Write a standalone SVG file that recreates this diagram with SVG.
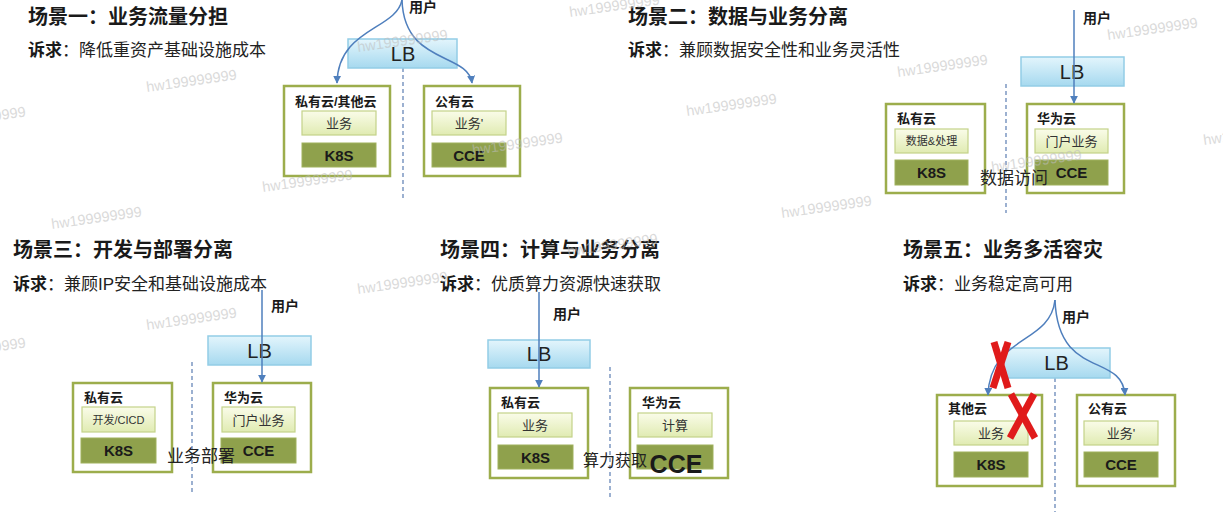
<svg xmlns="http://www.w3.org/2000/svg" width="1223" height="512" viewBox="0 0 1223 512">
<defs>
<linearGradient id="gLB" x1="0" y1="0" x2="0" y2="1"><stop offset="0" stop-color="#e3f5fc"/><stop offset="1" stop-color="#a6d9ef"/></linearGradient>
<linearGradient id="gSvc" x1="0" y1="0" x2="0" y2="1"><stop offset="0" stop-color="#fafce9"/><stop offset="1" stop-color="#e0ebb2"/></linearGradient>
<marker id="ah" viewBox="0 0 10 10" refX="9" refY="5" markerWidth="8" markerHeight="8" markerUnits="userSpaceOnUse" orient="auto"><path d="M0,0 L10,5 L0,10 z" fill="#4f7fbd"/></marker>
<style>
text{font-family:"Liberation Sans","Noto Sans CJK SC",sans-serif;fill:#1a1a1a}
.title{font-size:20px;font-weight:bold}
.req{font-size:17px;fill:#222}
.req .b{font-weight:bold;fill:#1a1a1a}
.user{font-size:14px;font-weight:bold}
.lb{fill:url(#gLB);stroke:#93cde6;stroke-width:1.5}
.lbt{font-size:20px;text-anchor:middle;fill:#222}
.outer{fill:#fff;stroke:#9cad4c;stroke-width:2.5}
.cap{font-size:13px;font-weight:bold}
.svc{fill:url(#gSvc);stroke:#c4d289;stroke-width:1.2}
.svt{font-size:13px;text-anchor:middle;fill:#333}
.svs{font-size:11px;text-anchor:middle;fill:#333}
.base{fill:#8fa14c;stroke:#9fb15c;stroke-width:1}
.bt{font-size:15px;font-weight:bold;text-anchor:middle}
.note{font-size:17px;fill:#222}
.conn{fill:none;stroke:#4f7fbd;stroke-width:1.5;marker-end:url(#ah)}
.div{stroke:#5b7db2;stroke-width:1.2;stroke-dasharray:4 3}
.wm{font-size:14.5px;fill:#bdbdbd;opacity:0.55}
.x{stroke:#e01b1b;stroke-width:7;stroke-linecap:butt}
</style>
</defs>
<rect width="1223" height="512" fill="#fff"/>

<!-- Scenario 1 -->
<g id="s1">
<text class="title" x="28" y="24">场景一：业务流量分担</text>
<text class="req" x="28" y="56"><tspan class="b">诉求</tspan>：降低重资产基础设施成本</text>
<line class="div" x1="403" y1="68" x2="403" y2="200"/>
<g id="s1-lb"><rect class="lb" x="348" y="39" width="109" height="29"/><text class="lbt" x="403" y="61">LB</text></g>
<text class="user" x="409" y="12">用户</text>
<g id="s1-left"><rect class="outer" x="284" y="86" width="106" height="90"/><text class="cap" x="295" y="106">私有云/其他云</text>
<rect class="svc" x="302" y="111" width="74" height="24"/><text class="svt" x="339" y="128">业务</text>
<rect class="base" x="302" y="143" width="74" height="24"/><text class="bt" x="339" y="160.5">K8S</text></g>
<g id="s1-right"><rect class="outer" x="424" y="86" width="96" height="90"/><text class="cap" x="435" y="106">公有云</text>
<rect class="svc" x="432" y="111" width="74" height="24"/><text class="svt" x="469" y="128">业务'</text>
<rect class="base" x="432" y="143" width="74" height="24"/><text class="bt" x="469" y="160.5">CCE</text></g>
</g>

<!-- Scenario 2 -->
<g id="s2">
<text class="title" x="628" y="24">场景二：数据与业务分离</text>
<text class="req" x="628" y="56"><tspan class="b">诉求</tspan>：兼顾数据安全性和业务灵活性</text>
<line class="div" x1="1006" y1="84" x2="1006" y2="213"/>
<g id="s2-lb"><rect class="lb" x="1021" y="57" width="103" height="29"/><text class="lbt" x="1072" y="79">LB</text></g>
<text class="user" x="1083" y="23">用户</text>
<g id="s2-left"><rect class="outer" x="886" y="104" width="99" height="89"/><text class="cap" x="897" y="123">私有云</text>
<rect class="svc" x="895" y="129" width="73" height="24"/><text class="svs" x="931.5" y="145">数据&amp;处理</text>
<rect class="base" x="895" y="160" width="73" height="25"/><text class="bt" x="931.5" y="178">K8S</text></g>
<g id="s2-right"><rect class="outer" x="1027" y="104" width="97" height="89"/><text class="cap" x="1037" y="123">华为云</text>
<rect class="svc" x="1035" y="129" width="73" height="24"/><text class="svt" x="1071.5" y="146">门户业务</text>
<rect class="base" x="1035" y="160" width="73" height="25"/><text class="bt" x="1071.5" y="178">CCE</text></g>
<text class="note" x="980" y="184">数据访问</text>
</g>

<!-- Scenario 3 -->
<g id="s3">
<text class="title" x="13" y="257">场景三：开发与部署分离</text>
<text class="req" x="13" y="290"><tspan class="b">诉求</tspan>：兼顾IP安全和基础设施成本</text>
<line class="div" x1="192" y1="362" x2="192" y2="493"/>
<g id="s3-lb"><rect class="lb" x="208" y="336" width="103" height="29"/><text class="lbt" x="259.5" y="358">LB</text></g>
<text class="user" x="271" y="311">用户</text>
<g id="s3-left"><rect class="outer" x="73" y="383" width="99" height="89"/><text class="cap" x="84" y="402">私有云</text>
<rect class="svc" x="82" y="407" width="73" height="25"/><text class="svs" x="118.5" y="424">开发/CICD</text>
<rect class="base" x="81" y="438" width="75" height="25"/><text class="bt" x="118.5" y="456">K8S</text></g>
<g id="s3-right"><rect class="outer" x="213" y="383" width="98" height="89"/><text class="cap" x="224" y="402">华为云</text>
<rect class="svc" x="222" y="407" width="73" height="25"/><text class="svt" x="258.5" y="424.5">门户业务</text>
<rect class="base" x="221" y="438" width="75" height="25"/><text class="bt" x="258.5" y="456">CCE</text></g>
<text class="note" x="167" y="462">业务部署</text>
</g>

<!-- Scenario 4 -->
<g id="s4">
<text class="title" x="440" y="257">场景四：计算与业务分离</text>
<text class="req" x="440" y="290"><tspan class="b">诉求</tspan>：优质算力资源快速获取</text>
<line class="div" x1="610" y1="367" x2="610" y2="500"/>
<g id="s4-lb"><rect class="lb" x="488" y="340" width="102" height="28"/><text class="lbt" x="539" y="361">LB</text></g>
<text class="user" x="553" y="319">用户</text>
<g id="s4-left"><rect class="outer" x="490" y="388" width="98" height="90"/><text class="cap" x="501" y="407">私有云</text>
<rect class="svc" x="498" y="413" width="74" height="24"/><text class="svt" x="535" y="430">业务</text>
<rect class="base" x="498" y="445" width="75" height="24"/><text class="bt" x="535.5" y="462.5">K8S</text></g>
<g id="s4-right"><rect class="outer" x="630" y="388" width="98" height="90"/><text class="cap" x="642" y="407">华为云</text>
<rect class="svc" x="638" y="413" width="74" height="24"/><text class="svt" x="675" y="430">计算</text>
<rect class="base" x="637" y="445" width="76" height="24"/><text class="bt" x="676" y="473" style="font-size:25px">CCE</text></g>
<text class="note" x="583" y="466" style="font-size:16px">算力获取</text>
</g>

<!-- Scenario 5 -->
<g id="s5">
<text class="title" x="903" y="257">场景五：业务多活容灾</text>
<text class="req" x="903" y="290"><tspan class="b">诉求</tspan>：业务稳定高可用</text>
<line class="div" x1="1055" y1="378" x2="1055" y2="512"/>
<g id="s5-lb"><rect class="lb" x="1003" y="348" width="107" height="30"/><text class="lbt" x="1056.5" y="370">LB</text></g>
<text class="user" x="1062" y="322">用户</text>
<g id="s5-left"><rect class="outer" x="937" y="395" width="105" height="91"/><text class="cap" x="948" y="413">其他云</text>
<rect class="svc" x="954" y="421" width="74" height="24"/><text class="svt" x="991" y="438">业务</text>
<rect class="base" x="954" y="452" width="74" height="25"/><text class="bt" x="991" y="470">K8S</text></g>
<g id="s5-right"><rect class="outer" x="1077" y="395" width="98" height="91"/><text class="cap" x="1088" y="413">公有云</text>
<rect class="svc" x="1084" y="421" width="74" height="24"/><text class="svt" x="1121" y="438">业务'</text>
<rect class="base" x="1084" y="452" width="74" height="25"/><text class="bt" x="1121" y="470">CCE</text></g>
</g>

<g id="connectors">
<path class="conn" d="M402,0 C396,30 338,28 337,83"/>
<path class="conn" d="M402,0 C404,65 468,52 472,83"/>
<path class="conn" d="M1074,10 L1074,103"/>
<path class="conn" d="M262,290 L262,382"/>
<path class="conn" d="M539,292 L539,387"/>
<path class="conn" d="M1055,300 C1050,345 990,335 988,395"/>
<path class="conn" d="M1055,300 C1058,380 1122,352 1125,395"/>
</g>

<g id="fail-marks">
<line class="x" x1="994" y1="342" x2="1008" y2="388"/>
<line class="x" x1="1008" y1="342" x2="993" y2="388"/>
<line class="x" x1="1011" y1="394" x2="1035" y2="438"/>
<line class="x" x1="1034" y1="394" x2="1010" y2="438"/>
</g>

<g id="watermarks">
<text class="wm" x="358" y="52" transform="rotate(-8 358 52)">hw199999999</text>
<text class="wm" x="147" y="92" transform="rotate(-8 147 92)">hw199999999</text>
<text class="wm" x="263" y="192" transform="rotate(-8 263 192)">hw199999999</text>
<text class="wm" x="-64" y="129" transform="rotate(-8 -64 129)">hw199999999</text>
<text class="wm" x="52" y="229" transform="rotate(-8 52 229)">hw199999999</text>
<text class="wm" x="570" y="17" transform="rotate(-8 570 17)">hw199999999</text>
<text class="wm" x="687" y="116" transform="rotate(-8 687 116)">hw199999999</text>
<text class="wm" x="898" y="77" transform="rotate(-8 898 77)">hw199999999</text>
<text class="wm" x="1108" y="40" transform="rotate(-8 1108 40)">hw199999999</text>
<text class="wm" x="1204" y="145" transform="rotate(-8 1204 145)">hw199999999</text>
<text class="wm" x="473" y="155" transform="rotate(-8 473 155)">hw199999999</text>
<text class="wm" x="992" y="172" transform="rotate(-8 992 172)">hw199999999</text>
<text class="wm" x="782" y="218" transform="rotate(-8 782 218)">hw199999999</text>
<text class="wm" x="358" y="294" transform="rotate(-8 358 294)">hw199999999</text>
<text class="wm" x="147" y="330" transform="rotate(-8 147 330)">hw199999999</text>
<text class="wm" x="-64" y="360" transform="rotate(-8 -64 360)">hw199999999</text>
<text class="wm" x="568" y="256" transform="rotate(-8 568 256)">hw199999999</text>
</g>
</svg>
